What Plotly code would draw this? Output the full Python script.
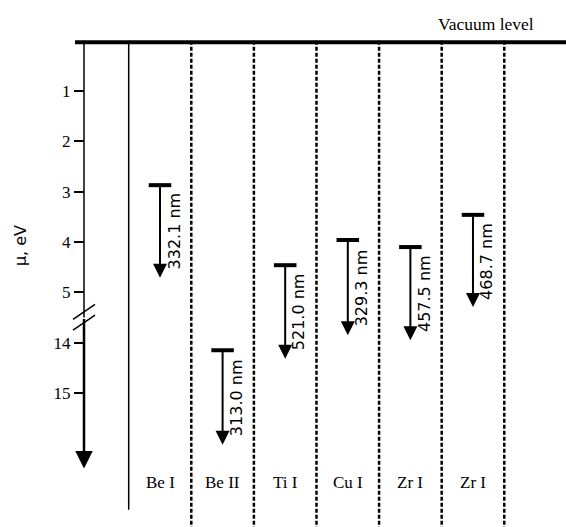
import plotly.graph_objects as go

# ---- data ----
columns = ["Be I", "Be II", "Ti I", "Cu I", "Zr I", "Zr I"]
wavelengths = ["332.1 nm", "313.0 nm", "521.0 nm", "329.3 nm", "457.5 nm", "468.7 nm"]
level_top_ev = [2.87, 14.15, 4.46, 3.96, 4.10, 3.46]
level_bottom_ev = [4.71, 16.03, 14.32, 13.85, 13.95, 5.29]
tick_values_ev = [1, 2, 3, 4, 5, 14, 15]
tick_labels = ["1", "2", "3", "4", "5", "14", "15"]

# broken axis: 5.5 eV .. 13.5 eV is cut out
BREAK_EV = 5.5
BREAK_SHIFT = 8.0
AXIS_END_EV = 16.5


def ev_to_pos(ev):
    return ev if ev <= BREAK_EV else ev - BREAK_SHIFT


col_x = list(range(1, len(columns) + 1))
top_pos = [ev_to_pos(v) for v in level_top_ev]
bot_pos = [ev_to_pos(v) for v in level_bottom_ev]
tick_pos = [ev_to_pos(v) for v in tick_values_ev]

X_RANGE = [-1.556, 7.486]
Y_RANGE = [9.662, -0.809]
AXIS_X = -0.214
AXIS_PAPER = (AXIS_X - X_RANGE[0]) / (X_RANGE[1] - X_RANGE[0])
LABEL_POS = 8.77
BAR_HALF = 0.18

fig = go.Figure()

# column separators
sep_x, sep_y = [], []
for i in col_x:
    sep_x += [i + 0.5, i + 0.5, None]
    sep_y += [0, Y_RANGE[0], None]
fig.add_trace(go.Scatter(x=sep_x, y=sep_y, mode="lines",
                         line=dict(color="black", width=2.5, dash="4px,2px"),
                         hoverinfo="skip", showlegend=False))
# solid separator
fig.add_trace(go.Scatter(x=[0.5, 0.5], y=[0, 9.32], mode="lines",
                         line=dict(color="black", width=1.5),
                         hoverinfo="skip", showlegend=False))

# vacuum level
fig.add_trace(go.Scatter(x=[-0.358, X_RANGE[1]], y=[0.03, 0.03], mode="lines",
                         line=dict(color="black", width=4),
                         hoverinfo="skip", showlegend=False))

# energy axis upper part
break_pos = ev_to_pos(BREAK_EV)
fig.add_trace(go.Scatter(x=[AXIS_X, AXIS_X], y=[0, break_pos], mode="lines",
                         line=dict(color="black", width=1.5),
                         hoverinfo="skip", showlegend=False))

# break marks
bx, by = [], []
for c in (break_pos - 0.11, break_pos + 0.10):
    bx += [AXIS_X - 0.176, AXIS_X + 0.176, None]
    by += [c + 0.149, c - 0.149, None]
fig.add_trace(go.Scatter(x=bx, y=by, mode="lines",
                         line=dict(color="black", width=1.5),
                         hoverinfo="skip", showlegend=False))

# level bars
bar_x, bar_y = [], []
for x, t in zip(col_x, top_pos):
    bar_x += [x - BAR_HALF, x + BAR_HALF, None]
    bar_y += [t, t, None]
fig.add_trace(go.Scatter(x=bar_x, y=bar_y, mode="lines",
                         line=dict(color="black", width=4),
                         hoverinfo="skip", showlegend=False))

annotations = []
# transition arrows
for x, t, b, w in zip(col_x, top_pos, bot_pos, wavelengths):
    annotations.append(dict(x=x, y=b, ax=x, ay=t, xref="x", yref="y",
                            axref="x", ayref="y", text="", showarrow=True,
                            arrowhead=2, arrowsize=1.4, arrowwidth=2,
                            arrowcolor="black", standoff=0, startstandoff=0))
    annotations.append(dict(x=x, y=(t + b) / 2, xref="x", yref="y", text=w,
                            showarrow=False, textangle=-90, xshift=14,
                            font=dict(family="DejaVu Sans", size=16, color="black")))

# axis arrow (lower part)
annotations.append(dict(x=AXIS_X, y=ev_to_pos(AXIS_END_EV), ax=AXIS_X, ay=break_pos,
                        xref="x", yref="y", axref="x", ayref="y", text="",
                        showarrow=True, arrowhead=2, arrowsize=1.4, arrowwidth=2.5,
                        arrowcolor="black", standoff=0, startstandoff=0))

# column labels
for x, name in zip(col_x, columns):
    annotations.append(dict(x=x, y=LABEL_POS, xref="x", yref="y", text=name,
                            showarrow=False,
                            font=dict(family="Liberation Serif", size=17, color="black")))

annotations.append(dict(x=6.208, y=-0.332, xref="x", yref="y", text="Vacuum level",
                        showarrow=False,
                        font=dict(family="Liberation Serif", size=17.5, color="black")))
annotations.append(dict(x=-1.236, y=4.08, xref="x", yref="y", text="μ, eV",
                        showarrow=False, textangle=-90,
                        font=dict(family="DejaVu Sans", size=16, color="black")))

fig.update_layout(
    width=566, height=527,
    margin=dict(l=0, r=0, t=0, b=0),
    paper_bgcolor="white", plot_bgcolor="white",
    showlegend=False,
    annotations=annotations,
    xaxis=dict(range=X_RANGE, visible=False, fixedrange=True),
    yaxis=dict(range=Y_RANGE, anchor="free", position=AXIS_PAPER,
               tickmode="array", tickvals=tick_pos, ticktext=tick_labels,
               ticks="outside", ticklen=10, tickwidth=1.5, tickcolor="black",
               showline=False, showgrid=False, zeroline=False,
               tickfont=dict(family="Liberation Serif", size=17, color="black"),
               fixedrange=True),
)

fig.write_html("out.html", config={"displayModeBar": False},
               post_script="document.body.style.margin='0';")
